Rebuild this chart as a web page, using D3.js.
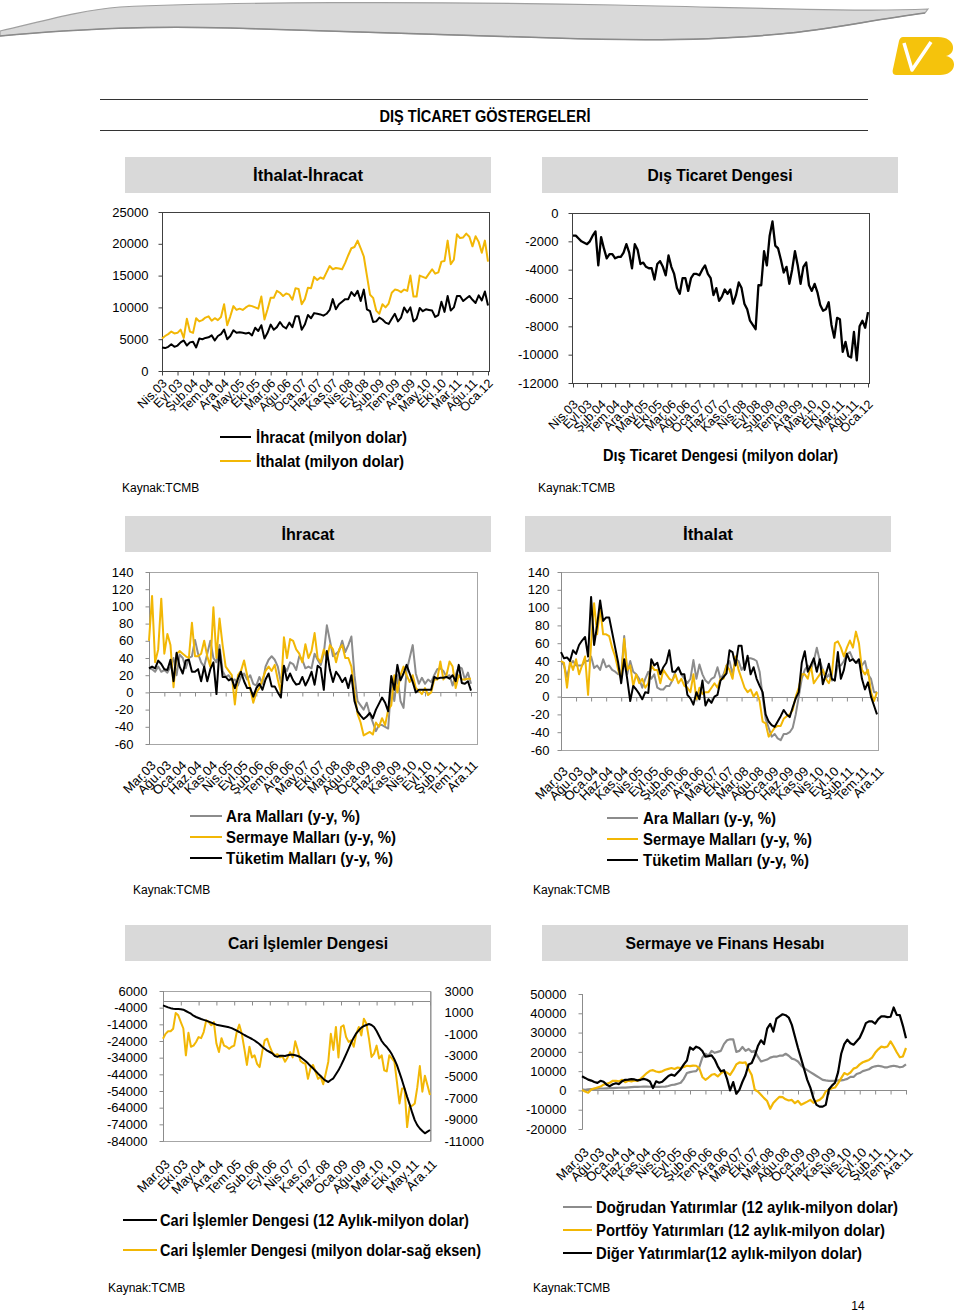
<!DOCTYPE html>
<html><head><meta charset="utf-8">
<script src="https://cdn.jsdelivr.net/npm/d3@7"></script>
<style>
body{margin:0;background:#fff}
svg text{font-family:"Liberation Sans Narrow","Arial Narrow","Liberation Sans",sans-serif;fill:#000}
</style></head>
<body><svg id="c" width="960" height="1312"></svg>
<script>
// ---------- DATA ----------
const labelsTrade = ["Nis.03","Eyl.03","Şub.04","Tem.04","Ara.04","May.05","Eki.05","Mar.06","Ağu.06","Oca.07","Haz.07","Kas.07","Nis.08","Eyl.08","Şub.09","Tem.09","Ara.09","May.10","Eki.10","Mar.11","Ağu.11","Oca.12"];
const labelsGoods = ["Mar.03","Ağu.03","Oca.04","Haz.04","Kas.04","Nis.05","Eyl.05","Şub.06","Tem.06","Ara.06","May.07","Eki.07","Mar.08","Ağu.08","Oca.09","Haz.09","Kas.09","Nis.10","Eyl.10","Şub.11","Tem.11","Ara.11"];
const labelsCari = ["Mar.03","Eki.03","May.04","Ara.04","Tem.05","Şub.06","Eyl.06","Nis.07","Kas.07","Haz.08","Oca.09","Ağu.09","Mar.10","Eki.10","May.11","Ara.11"];

const ihracat = [3700,3600,3800,4200,3800,4000,4500,4800,4000,
4500,4600,3700,5100,5000,5200,5300,5600,4800,5500,5800,6500,
5000,5500,6400,6000,6100,6000,5900,6000,5600,6800,6300,7200,
5100,6000,7300,6500,6900,7700,7000,6700,7600,6900,8600,8600,
6500,7300,8800,8300,9100,9000,8900,8700,9000,9600,11300,9700,
10500,10900,11300,11300,12400,11800,12600,11000,12800,9700,9400,7700,
7800,8400,8100,7600,7400,8200,9000,7800,8400,10000,9200,10000,
7800,8200,9900,9400,9700,9600,9500,8500,8800,10900,9300,11800,
9500,10000,11800,11800,11000,11400,11800,11200,10700,11900,11100,12500,
10300];
const ithalat = [5100,5500,5800,6200,5900,6000,6500,5200,8200,
6200,6000,8300,7800,8000,8400,8600,7900,8300,8000,8500,10500,
7200,8600,10200,9600,9800,9600,10000,10300,10200,10000,9800,11700,
8100,9700,11500,11500,12600,12300,11800,12200,12000,11200,13000,12900,
10500,11300,13100,13000,14800,14300,14700,14500,15500,16500,16000,16200,
16100,16000,17000,18200,19300,19500,20500,19300,18000,15000,12000,11500,
9500,9000,10500,10000,10600,12300,12800,12700,12400,12800,12600,15000,
11700,11700,15000,14800,14600,15300,16000,15300,15500,17200,17300,20500,
16800,17500,21500,20900,21000,21600,21100,19600,21200,20300,18600,20500,
17200];
const disTicaretDengesi = [-1600,-1600,-1800,-2000,-2100,-2200,-2000,-1600,-1300,-3700,
-1700,-2500,-3200,-2900,-2900,-3200,-3100,-3100,-2800,-2200,
-2800,-3900,-2200,-2600,-3600,-3500,-3800,-3900,-3900,-4700,
-3600,-3400,-3800,-4400,-3000,-3800,-4300,-5300,-5700,-4600,
-4600,-5500,-4600,-4300,-4300,-4400,-4000,-3700,-4300,-4600,
-5800,-5300,-6200,-5900,-5400,-5700,-5400,-6400,-5800,-4900,
-5300,-6400,-6800,-7600,-7900,-8200,-5100,-5100,-2700,-3700,
-1600,-600,-2300,-2500,-3300,-4200,-3800,-5000,-4000,-2700,
-3700,-5000,-3800,-3500,-5100,-5500,-5000,-5600,-6500,-6900,
-6800,-6300,-7900,-8800,-7400,-7500,-9800,-9100,-10100,-10200,
-8400,-10400,-8000,-7600,-8100,-7000];

// İhracat (y-y %)
const ihrAra = [28,27,24,30,24,26,23,30,40,20,
44,40,28,40,42,61,45,35,30,45,
60,40,35,55,25,18,20,14,15,8,
18,22,15,20,10,8,18,10,30,38,
42,38,30,12,30,25,35,33,26,42,
38,28,30,28,45,38,32,45,78,60,
42,45,48,60,47,55,65,20,-10,-15,
-20,-12,-25,-35,-45,-38,-38,-40,-42,10,
-10,20,-10,-18,25,40,55,22,10,17,
10,15,12,20,27,28,25,18,20,8,
20,30,28,15,23,10];
const ihrSermaye = [60,112,35,50,109,45,68,55,6,45,
48,45,42,40,81,42,42,45,60,42,
30,99,40,86,55,30,25,20,-14,20,
25,37,20,5,-12,0,5,15,25,30,
25,32,15,0,64,40,62,60,50,45,
35,56,40,48,69,40,35,50,40,55,
50,35,50,55,40,40,30,0,-25,-35,
-50,-48,-46,-49,-35,-40,-30,-38,-20,-15,
20,0,20,30,20,12,20,5,2,-2,
5,-3,0,15,15,36,15,20,36,30,
5,20,15,15,16,16];
const ihrTuketim = [28,30,28,37,33,27,26,38,13,46,
30,22,37,38,24,24,27,13,30,13,
27,35,-2,50,18,18,14,16,5,16,
24,13,5,5,-5,5,10,3,15,22,
7,7,0,-6,31,14,22,14,9,10,
18,8,15,24,9,31,28,3,48,26,
12,24,19,12,17,5,20,-10,-22,-27,
-31,-28,-24,-30,-20,-13,-6,-12,-22,19,
3,32,14,22,32,22,12,0,3,3,
3,3,3,18,16,17,17,18,16,20,
13,32,11,10,13,2];

// İthalat (y-y %)
const ithAra = [40,35,22,36,40,35,35,35,40,40,
45,32,35,30,42,33,35,30,28,25,
25,68,25,40,28,25,20,10,20,28,
20,25,10,8,8,12,12,18,28,32,
25,20,15,20,41,20,36,25,18,15,
20,22,33,20,25,35,40,25,42,40,
30,35,43,43,42,40,28,0,-25,-35,
-45,-42,-47,-49,-42,-42,-40,-35,-20,0,
20,30,35,30,40,55,40,30,20,25,
18,20,35,35,40,48,50,42,38,38,
35,40,25,20,5,5];
const ithSermaye = [40,38,10,40,30,42,25,35,45,2,
60,105,70,100,70,70,68,55,45,30,
20,65,30,35,12,25,15,20,10,15,
35,30,30,15,30,25,20,18,25,15,
20,12,10,5,25,-3,10,3,5,5,
10,15,10,20,20,35,30,20,45,30,
20,10,5,8,0,5,-5,-28,-30,-45,
-40,-35,-33,-33,-25,-22,-20,-15,0,10,
25,25,20,35,15,20,25,30,20,15,
25,60,62,55,45,55,63,55,73,60,
30,25,30,5,-5,5];
const ithTuketim = [50,43,44,40,52,48,58,63,67,45,
112,58,80,108,85,89,89,72,55,38,
15,42,20,-5,12,8,3,-3,5,4,
42,35,38,25,33,38,52,28,28,33,
25,25,2,-2,-9,5,-3,18,-10,-3,
-7,0,2,18,22,26,52,50,35,57,
57,30,46,25,33,20,12,5,-20,-28,
-32,-34,-28,-22,-15,-20,-23,-12,-2,5,
38,51,28,35,43,28,42,14,25,37,
20,18,50,20,30,48,40,42,38,42,
20,8,16,0,-10,-20];

// Cari işlemler
const cari12 = [-2600,-3200,-3800,-4300,-4600,-4800,-4800,-4900,-5200,-6000,
-6800,-7600,-8800,-9600,-10200,-10800,-11300,-11800,-12400,-13000,
-13600,-14200,-14500,-14800,-15100,-15400,-15800,-16300,-17000,-17800,
-18600,-19500,-20400,-21200,-22000,-22800,-23700,-24800,-26000,-27400,
-28600,-29800,-30600,-31400,-33000,-33500,-32800,-32900,-33000,-32600,
-32200,-32200,-32600,-33000,-33600,-34800,-36000,-37400,-39000,-40400,
-42000,-43600,-45000,-46600,-47800,-48600,-47400,-46400,-44000,-41600,
-38600,-35400,-32000,-28600,-25000,-22000,-19400,-17600,-16000,-15000,
-14400,-13800,-14400,-15600,-18000,-21000,-24000,-26000,-27600,-29600,
-32000,-35000,-38500,-43000,-47500,-52500,-57500,-62000,-67000,-71500,
-74500,-76500,-78000,-79400,-78400,-77400];
const cariAylik = [-1450,-1000,-760,-760,-520,950,730,100,-500,-3000,
-900,-2200,-2100,-1760,-1300,-1400,-830,260,100,-200,
100,-1900,-2700,-1400,-2100,-2200,-2400,-2200,-2100,-830,
-140,-1000,-2400,-3900,-2200,-3200,-3000,-3800,-4100,-2700,
-1600,-1450,-2200,-2750,-3000,-2900,-3200,-3100,-3600,-3200,
-2700,-3200,-1700,-2500,-3500,-3700,-3800,-5200,-4200,-3900,
-4550,-5200,-5000,-5700,-4700,-3600,-1000,-2500,-350,-3200,
-360,-200,-1300,-1750,-1600,-2200,-1000,-360,-1150,420,
-50,-1450,-3150,-2850,-2100,-3300,-3000,-4400,-4500,-3000,
-3300,-3600,-5500,-7500,-6100,-6100,-9700,-7800,-7700,-7500,
-6000,-4000,-6400,-4900,-5800,-6700];

// Sermaye ve finans hesabı
const dogrudan = [500,300,500,700,800,900,1000,1000,1100,1200,
1200,1300,1400,1500,1500,1600,1700,1800,1800,1900,
2000,2000,1900,1800,1800,1800,1900,2000,2300,2800,
3000,3500,4000,6000,9000,9500,9800,10000,12000,17000,
19000,18000,20500,19500,20000,20500,24000,26000,26500,26500,
20000,20500,22500,20500,21500,20000,20500,17500,15000,15500,
16000,17000,17500,17500,18000,18000,19000,18000,16500,16000,
15000,13000,11500,10500,9500,8500,7500,6500,5500,5200,
5000,5000,5000,5200,5200,5500,6000,7000,7000,8500,
9000,10000,10500,11000,12000,12500,12800,12500,12000,12000,
12500,12800,12500,12000,12300,13500];
const portfoy = [300,-600,-1200,500,1000,1500,2000,3000,3500,4000,
5000,5000,4700,5500,4300,5000,4700,5200,5000,6000,
7500,9000,10200,10500,9800,9500,9900,10700,11200,11600,
11100,11900,11600,12200,12800,12600,12900,12800,11500,7000,
5500,6700,8100,8500,7300,8800,9900,9200,8100,10500,
13500,14500,14300,14500,11000,8000,300,-500,-2200,-4000,
-5500,-9500,-6500,-4800,-3300,-3500,-4600,-5200,-4900,-6600,
-5400,-7400,-6600,-5800,-4900,-6400,-5500,-4900,-3500,-500,
400,1100,1500,3800,6400,9000,8200,9300,11300,11900,
13500,14600,15200,15800,17000,19500,21300,22700,22300,22800,
25400,22800,19800,17200,17600,22000];
const diger = [7300,6500,5600,5100,4400,3900,5000,4500,3000,2200,
3200,3700,3300,4800,5500,5600,5900,5700,5200,5500,
6000,5500,4600,1200,4700,4000,4500,6000,7500,8200,
7600,9300,11000,13500,15500,22300,21100,22700,22000,20400,
17500,17800,18200,16000,12500,9900,10500,6000,0,4300,
-1700,300,4500,8000,13500,14200,18000,23000,26000,24000,
32000,34500,30500,37200,38400,39500,39000,37800,34000,28000,
22000,16500,11000,5500,1500,-4000,-7500,-8400,-8400,-7500,
500,2500,4000,9500,19000,24000,26300,24500,23700,25500,
27300,30800,34900,35800,35800,34600,37000,38400,38400,38000,
38200,43000,39200,39000,33500,27000];

// ---------- DRAWING ----------
const YEL = "#f2b705", GRY = "#8c8c8c", BLK = "#000";
const svg = d3.select("#c");

// decorative header swoosh
svg.append("path")
  .attr("d","M0,31 C40,22 80,10 120,7 C220,2 420,1 615,5 C760,8 860,12 928,9 L925,13 C870,20 830,30 780,34 C720,40 640,41 554,38 C450,35 330,31 230,28 C150,26 90,28 0,36 Z")
  .attr("fill","#d9d9d9").attr("stroke","#a0a0a0").attr("stroke-width",1.2);
svg.append("path")
  .attr("d","M0,36 C90,28 150,26 230,28 C330,31 450,35 554,38 C640,41 720,40 780,34 C830,30 870,20 925,13")
  .attr("fill","none").attr("stroke","#8a8a8a").attr("stroke-width",1.5);
// logo
svg.append("path")
  .attr("d","M903,37 L938,37 C956,37 957,54 946,56 C958,58 957,75 940,75 L896,75 C893,75 892,72 893,69 L899,41 C900,38 901,37 903,37 Z")
  .attr("fill","#f5c30c");
svg.append("path").attr("d","M904,43 L912,70 L931,42").attr("fill","none").attr("stroke","#fff").attr("stroke-width",3.5).attr("stroke-linejoin","round");

// title
svg.append("line").attr("x1",100).attr("x2",868).attr("y1",99.5).attr("y2",99.5).attr("stroke","#333");
svg.append("line").attr("x1",100).attr("x2",868).attr("y1",130.5).attr("y2",130.5).attr("stroke","#333");
fitText(485,116,"DIŞ TİCARET GÖSTERGELERİ",16,211,"middle");

function fitText(x,y,t,size,width,anchor){
  const e = svg.append("text").attr("x",x).attr("y",y).attr("dy","0.35em").attr("text-anchor",anchor||"start")
    .style("font-size",size+"px").style("font-weight","bold").text(t);
  if(width) e.attr("textLength",width).attr("lengthAdjust","spacingAndGlyphs");
  return e;
}
function header(x,y,w,h,t,tw){
  svg.append("rect").attr("x",x).attr("y",y).attr("width",w).attr("height",h).attr("fill","#d9d9d9");
  fitText(x+w/2,y+h/2,t,16.5,tw,"middle");
}
function txt(x,y,t,size,anchor){
  svg.append("text").attr("x",x).attr("y",y).attr("dy","0.35em").attr("text-anchor",anchor||"start")
    .style("font-size",size+"px").text(t);
}
function legend(x1,x2,tx,y,color,t,tw){
  svg.append("line").attr("x1",x1).attr("x2",x2).attr("y1",y).attr("y2",y).attr("stroke",color).attr("stroke-width",2);
  fitText(tx,y,t,16,tw);
}

function styleAxis(sel,color,fs){
  sel.select(".domain").attr("stroke",color);
  sel.selectAll(".tick line").attr("stroke",color);
  sel.selectAll(".tick text").style("font-size",fs+"px").attr("fill","#000");
}

function chart(o){
  const g = svg.append("g");
  const x = d3.scaleLinear().domain([0,105]).range(o.xr);
  const y = d3.scaleLinear().domain(o.yd).range([o.bottom,o.top]);
  const fmt = d => String(d);
  if(o.frame){
    g.append("rect").attr("x",o.left+0.5).attr("y",o.top+0.5).attr("width",o.right-o.left).attr("height",o.bottom-o.top)
      .attr("fill","none").attr("stroke",o.frame);
  }
  const ya = g.append("g").attr("transform",`translate(${o.left+0.5},0)`)
    .call(d3.axisLeft(y).tickValues(o.yt).tickSize(4).tickPadding(o.yPad||10).tickFormat(fmt));
  styleAxis(ya,o.axisColor,13);
  ya.select(".domain").attr("d",`M0,${o.top}V${o.bottom+0.5}`);
  let yR=null;
  if(o.ydR){
    yR = d3.scaleLinear().domain(o.ydR).range([o.bottom,o.top]);
    const ra = g.append("g").attr("transform",`translate(${o.right+0.5},0)`)
      .call(d3.axisRight(yR).tickValues(o.ytR).tickSize(0).tickPadding(14).tickFormat(fmt));
    styleAxis(ra,o.axisColor,13);
  }
  const baseY = (o.base!=null ? Math.round(y(o.base)) : o.bottom)+0.5;
  const tv = o.labels.map((d,i)=>i*o.step);
  const xa = g.append("g").attr("transform",`translate(0,${baseY})`)
    .call(d3.axisBottom(x).tickValues(tv).tickSize(4).tickFormat(""));
  styleAxis(xa,o.axisColor,12);
  xa.select(".domain").attr("d",`M${o.left},0H${o.right}`);
  const la = g.append("g").attr("transform",`translate(${o.lx||4},${o.bottom+o.lg})`)
    .call(d3.axisBottom(x).tickValues(tv).tickSize(0).tickPadding(0).tickFormat(d=>o.labels[tv.indexOf(d)]));
  la.select(".domain").remove();
  la.selectAll(".tick text").style("font-size",(o.lfs||13)+"px").attr("y",0).attr("x",0).attr("dy","0.35em")
    .attr("transform","rotate(-45)").style("text-anchor","end");
  o.series.forEach(s=>{
    const ys = s.right ? yR : y;
    g.append("path").datum(s.data)
      .attr("d", d3.line().x((d,i)=>x(i)).y(d=>ys(d)))
      .attr("fill","none").attr("stroke",s.color).attr("stroke-width",s.w||2).attr("stroke-linejoin","round");
  });
}

// ---- Row 1
header(125,157,366,36,"İthalat-İhracat",110);
header(542,157,356,36,"Dış Ticaret Dengesi",145);

chart({left:162,right:489,top:212,bottom:371,xr:[162,488],yd:[0,25000],yt:[0,5000,10000,15000,20000,25000],
  frame:"#404040",axisColor:"#404040",labels:labelsTrade,step:5,lg:10,lx:2,lfs:12.5,
  series:[{data:ithalat,color:YEL},{data:ihracat,color:BLK}]});
legend(220,251,256,437,BLK,"İhracat (milyon dolar)",151);
legend(220,251,256,461,YEL,"İthalat (milyon dolar)",148);
txt(122,488,"Kaynak:TCMB",12);

chart({left:572,right:869,top:213,bottom:383,xr:[573,868],yd:[-12000,0],yt:[0,-2000,-4000,-6000,-8000,-10000,-12000],
  frame:"#404040",axisColor:"#404040",labels:labelsTrade,step:5,lg:19,lx:2,lfs:12.5,
  series:[{data:disTicaretDengesi,color:BLK,w:2.3}]});
fitText(720.5,455,"Dış Ticaret Dengesi (milyon dolar)",16,235,"middle");
txt(538,488,"Kaynak:TCMB",12);

// ---- Row 2
header(125,516,366,36,"İhracat",53);
header(525,516,366,36,"İthalat",50);

chart({left:149,right:477,top:572,bottom:744,xr:[149,471],yd:[-60,140],yt:[-60,-40,-20,0,20,40,60,80,100,120,140],
  frame:"#a6a6a6",axisColor:"#8c8c8c",base:0,labels:labelsGoods,step:5,lg:19,lx:4,yPad:12,
  series:[{data:ihrAra,color:GRY},{data:ihrSermaye,color:YEL},{data:ihrTuketim,color:BLK}]});
legend(190,222,226,816,GRY,"Ara Malları (y-y, %)",134);
legend(190,222,226,837,YEL,"Sermaye Malları (y-y, %)",170);
legend(190,222,226,858,BLK,"Tüketim Malları (y-y, %)",167);
txt(133,890,"Kaynak:TCMB",12);

chart({left:561,right:878,top:572,bottom:750,xr:[561,877],yd:[-60,140],yt:[-60,-40,-20,0,20,40,60,80,100,120,140],
  frame:"#a6a6a6",axisColor:"#8c8c8c",base:0,labels:labelsGoods,step:5,lg:19,lx:4,yPad:8,
  series:[{data:ithAra,color:GRY},{data:ithSermaye,color:YEL},{data:ithTuketim,color:BLK}]});
legend(607,638,643,818,GRY,"Ara Malları (y-y, %)",133);
legend(607,638,643,839,YEL,"Sermaye Malları (y-y, %)",169);
legend(607,638,643,860,BLK,"Tüketim Malları (y-y, %)",166);
txt(533,890,"Kaynak:TCMB",12);

// ---- Row 3
header(125,925,366,36,"Cari İşlemler Dengesi",160);
header(542,925,366,36,"Sermaye ve Finans Hesabı",199);

chart({left:163,right:430,top:991,bottom:1141,xr:[163,430],yd:[-84000,6000],yt:[6000,-4000,-14000,-24000,-34000,-44000,-54000,-64000,-74000,-84000],
  ydR:[-11000,3000],ytR:[3000,1000,-1000,-3000,-5000,-7000,-9000,-11000],
  frame:"#a6a6a6",axisColor:"#8c8c8c",base:0,labels:labelsCari,step:7,lg:21,lx:4,yPad:12,
  series:[{data:cariAylik,color:YEL,right:true},{data:cari12,color:BLK}]});
legend(123,157,160,1220,BLK,"Cari İşlemler Dengesi (12 Aylık-milyon dolar)",309);
legend(123,157,160,1250,YEL,"Cari İşlemler Dengesi (milyon dolar-sağ eksen)",321);
txt(108,1288,"Kaynak:TCMB",12);

chart({left:582,right:907,top:994,bottom:1129,xr:[582,906],yd:[-20000,50000],yt:[50000,40000,30000,20000,10000,0,-10000,-20000],
  frame:null,axisColor:"#8c8c8c",base:0,labels:labelsGoods,step:5,lg:21,lx:4,yPad:12,
  series:[{data:dogrudan,color:GRY,w:2.2},{data:portfoy,color:YEL,w:2.2},{data:diger,color:BLK,w:2.2}]});
legend(563,592,596,1207,GRY,"Doğrudan Yatırımlar (12 aylık-milyon dolar)",302);
legend(563,592,596,1230,YEL,"Portföy Yatırımları (12 aylık-milyon dolar)",289);
legend(563,592,596,1253,BLK,"Diğer Yatırımlar(12 aylık-milyon dolar)",266);
txt(533,1288,"Kaynak:TCMB",12);

txt(858,1306,"14",12,"middle");
</script>
</body></html>
